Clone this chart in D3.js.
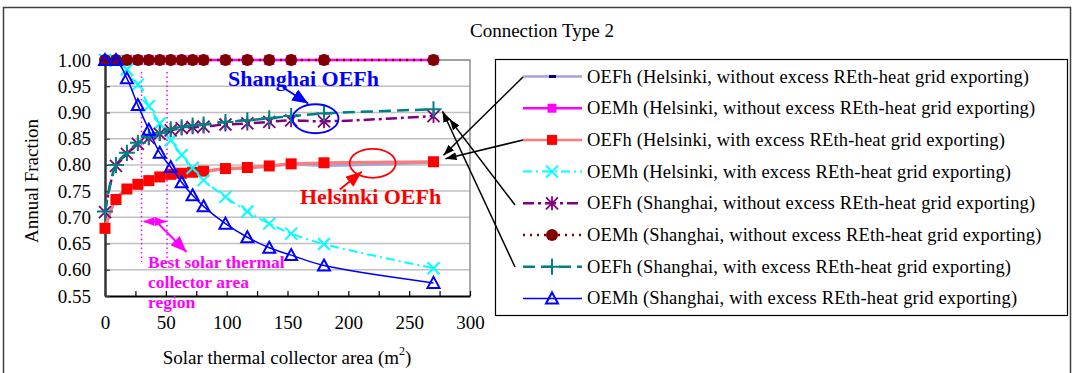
<!DOCTYPE html>
<html>
<head>
<meta charset="utf-8">
<script src="https://cdn.jsdelivr.net/npm/d3@7"></script>
<style>
  html, body { margin: 0; padding: 0; background: #fff; }
  svg { display: block; font-family: "Liberation Serif", "Times New Roman", serif; }
</style>
</head>
<body>
<svg id="chart" width="1074" height="373"></svg>
<script>
// Collector areas (m²) at which each configuration was simulated
const areas = [0, 9, 18, 27, 36, 45, 54, 63, 72, 81, 99, 117, 135, 153, 180, 270];

// Annual fractions per series
const helOEFhNo   = [0.678, 0.734, 0.753, 0.763, 0.770, 0.776, 0.781, 0.784, 0.785, 0.787, 0.792, 0.794, 0.797, 0.801, 0.799, 0.805];
const helOEMhNo   = [1.000, 1.000, 1.000, 1.000, 1.000, 1.000, 1.000, 1.000, 1.000, 1.000, 1.000, 1.000, 1.000, 1.000, 1.000, 1.000];
const helOEFhWith = [0.679, 0.734, 0.754, 0.763, 0.770, 0.777, 0.782, 0.784, 0.786, 0.788, 0.793, 0.795, 0.798, 0.802, 0.804, 0.806];
const helOEMhWith = [1.000, 0.998, 0.982, 0.953, 0.912, 0.879, 0.847, 0.819, 0.794, 0.771, 0.739, 0.711, 0.688, 0.669, 0.649, 0.603];
const shaOEFhNo   = [0.710, 0.798, 0.821, 0.840, 0.851, 0.859, 0.866, 0.870, 0.872, 0.873, 0.877, 0.879, 0.882, 0.885, 0.883, 0.893];
const shaOEMhNo   = [1.000, 1.000, 1.000, 1.000, 1.000, 1.000, 1.000, 1.000, 1.000, 1.000, 1.000, 1.000, 1.000, 1.000, 1.000, 1.000];
const shaOEFhWith = [0.711, 0.800, 0.823, 0.842, 0.853, 0.861, 0.868, 0.872, 0.875, 0.877, 0.882, 0.885, 0.889, 0.893, 0.898, 0.906];
const shaOEMhWith = [1.000, 1.000, 0.965, 0.914, 0.867, 0.823, 0.796, 0.767, 0.742, 0.721, 0.688, 0.662, 0.642, 0.628, 0.608, 0.575];

const seriesNames = [
  "OEFh (Helsinki, without excess REth-heat grid exporting)",
  "OEMh (Helsinki, without excess REth-heat grid exporting)",
  "OEFh (Helsinki, with excess REth-heat grid exporting)",
  "OEMh (Helsinki, with excess REth-heat grid exporting)",
  "OEFh (Shanghai, without excess REth-heat grid exporting)",
  "OEMh (Shanghai, without excess REth-heat grid exporting)",
  "OEFh (Shanghai, with excess REth-heat grid exporting)",
  "OEMh (Shanghai, with excess REth-heat grid exporting)"
];

const xTicks = [0, 50, 100, 150, 200, 250, 300];
const yTicks = [0.55, 0.60, 0.65, 0.70, 0.75, 0.80, 0.85, 0.90, 0.95, 1.00];

const chartTitle = "Connection Type 2";
const yTitle = "Annual Fraction";
const bestRegion = [30, 51];

// Series styling
const styles = [
  { values: helOEFhNo,   line: "#a3a3d6", width: 3,   dash: null,          marker: "dash",     color: "#000080" },
  { values: helOEMhNo,   line: "#ff00ff", width: 2.5, dash: null,          marker: "square",   color: "#ff00ff", size: 10 },
  { values: helOEFhWith, line: "#ff7a7a", width: 3,   dash: null,          marker: "square",   color: "#ff0000", size: 11 },
  { values: helOEMhWith, line: "#00ffff", width: 2,   dash: "9,4,2,4",     marker: "cross",    color: "#00ffff" },
  { values: shaOEFhNo,   line: "#800080", width: 2.5, dash: "11,4,3,4",    marker: "asterisk", color: "#800080" },
  { values: shaOEMhNo,   line: "#800000", width: 2.5, dash: "2,5",         marker: "circle",   color: "#800000" },
  { values: shaOEFhWith, line: "#008080", width: 2.5, dash: "12,6",        marker: "plus",     color: "#008080" },
  { values: shaOEMhWith, line: "#0000ff", width: 1.5, dash: null,          marker: "triangle", color: "#0000ff" }
];

const svg = d3.select("#chart");

// Outer frame
svg.append("rect")
  .attr("x", 3.5).attr("y", 7.5).attr("width", 1067).attr("height", 420)
  .attr("fill", "none").attr("stroke", "#404040").attr("stroke-width", 1.5);

svg.append("text")
  .attr("x", 542).attr("y", 37)
  .attr("text-anchor", "middle").attr("font-size", 19)
  .text(chartTitle);

const plot = { left: 105, right: 470, top: 60, bottom: 296 };
const x = d3.scaleLinear().domain([0, 300]).range([plot.left, plot.right]);
const y = d3.scaleLinear().domain([0.55, 1.00]).range([plot.bottom, plot.top]);

// Gridlines
svg.append("g").selectAll("line").data(yTicks.slice(1)).join("line")
  .attr("x1", plot.left).attr("x2", plot.right)
  .attr("y1", d => y(d)).attr("y2", d => y(d))
  .attr("stroke", "#c0c0c0").attr("stroke-width", 1.5);

// Plot area border (right/top)
svg.append("path")
  .attr("d", `M${plot.left},${plot.top}H${plot.right}V${plot.bottom}`)
  .attr("fill", "none").attr("stroke", "#909090").attr("stroke-width", 1.5);

// Axes
const xAxis = d3.axisBottom(x).tickValues(d3.range(0, 301, 25)).tickSizeInner(-5).tickSizeOuter(0)
  .tickFormat(d => xTicks.includes(d) ? d : "").tickPadding(20);
const gx = svg.append("g").attr("transform", `translate(0,${plot.bottom})`).call(xAxis);
gx.select(".domain").attr("stroke", "#000").attr("stroke-width", 2);
gx.selectAll(".tick line").attr("stroke", "#000").attr("stroke-width", 1.2);
gx.selectAll("text").attr("font-size", 19).attr("font-family", "Liberation Serif").attr("fill", "#000");

const yAxis = d3.axisLeft(y).tickValues(yTicks).tickSizeInner(-5).tickSizeOuter(0)
  .tickFormat(d3.format(".2f")).tickPadding(14);
const gy = svg.append("g").attr("transform", `translate(${plot.left},0)`).call(yAxis);
gy.select(".domain").attr("stroke", "#333").attr("stroke-width", 2.5);
gy.selectAll(".tick line").attr("stroke", "#333").attr("stroke-width", 1.2);
gy.selectAll("text").attr("font-size", 19).attr("font-family", "Liberation Serif").attr("fill", "#000");

// Axis titles
svg.append("text")
  .attr("transform", "translate(38,181) rotate(-90)")
  .attr("text-anchor", "middle").attr("font-size", 19)
  .text(yTitle);

const xt = svg.append("text")
  .attr("x", 287).attr("y", 364)
  .attr("text-anchor", "middle").attr("font-size", 19);
xt.append("tspan").text("Solar thermal collector area (m");
xt.append("tspan").attr("font-size", 12).attr("dy", -9).text("2");
xt.append("tspan").attr("dy", 9).text(")");

// Best collector area region guides
const guide = svg.append("g");
guide.selectAll("line").data(bestRegion).join("line")
  .attr("x1", d => x(d)).attr("x2", d => x(d))
  .attr("y1", y(0.977)).attr("y2", y(0.615))
  .attr("stroke", "#ff00ff").attr("stroke-width", 1.5).attr("stroke-dasharray", "1.5,3");

const defs = svg.append("defs");
function arrowMarker(id, color, w, h) {
  defs.append("marker").attr("id", id)
    .attr("viewBox", `0 0 ${w} ${h}`).attr("refX", w).attr("refY", h / 2)
    .attr("markerWidth", w).attr("markerHeight", h).attr("markerUnits", "userSpaceOnUse")
    .attr("orient", "auto-start-reverse")
    .append("path").attr("d", `M0,0L${w},${h / 2}L0,${h}Z`).attr("fill", color);
}
arrowMarker("ahMag", "#ff00ff", 11, 9);
arrowMarker("ahMagBig", "#ff00ff", 16, 13);
arrowMarker("ahBlue", "#0000ff", 16, 13);
arrowMarker("ahRed", "#ff0000", 16, 13);
arrowMarker("ahBlack", "#000", 11, 8);

// Lines
const lineGen = vals => d3.line()
  .x((d, i) => x(areas[i]))
  .y(d => y(d))
  .curve(d3.curveCatmullRom.alpha(0.5))(vals);

// Markers
function drawMarker(g, type, cx, cy, s) {
  if (type === "dash") {
    g.append("rect").attr("x", cx - 3).attr("y", cy - 1.5).attr("width", 7).attr("height", 3).attr("fill", s.color);
  } else if (type === "square") {
    const z = s.size;
    g.append("rect").attr("x", cx - z / 2).attr("y", cy - z / 2).attr("width", z).attr("height", z).attr("fill", s.color);
  } else if (type === "cross") {
    g.append("path").attr("d", `M${cx - 6},${cy - 6}L${cx + 6},${cy + 6}M${cx - 6},${cy + 6}L${cx + 6},${cy - 6}`)
      .attr("stroke", s.color).attr("stroke-width", 2);
  } else if (type === "asterisk") {
    g.append("path").attr("d", `M${cx - 6},${cy - 6}L${cx + 6},${cy + 6}M${cx - 6},${cy + 6}L${cx + 6},${cy - 6}M${cx},${cy - 7}V${cy + 7}`)
      .attr("stroke", s.color).attr("stroke-width", 1.8);
  } else if (type === "circle") {
    g.append("circle").attr("cx", cx).attr("cy", cy).attr("r", 6).attr("fill", s.color);
  } else if (type === "plus") {
    g.append("path").attr("d", `M${cx - 8},${cy}H${cx + 8}M${cx},${cy - 8}V${cy + 8}`)
      .attr("stroke", s.color).attr("stroke-width", 2);
  } else if (type === "triangle") {
    g.append("path").attr("d", `M${cx},${cy - 6}L${cx + 6},${cy + 5}L${cx - 6},${cy + 5}Z`)
      .attr("fill", "none").attr("stroke", s.color).attr("stroke-width", 2);
  }
}

styles.forEach(s => {
  const g = svg.append("g");
  g.append("path").attr("d", lineGen(s.values))
    .attr("fill", "none").attr("stroke", s.line).attr("stroke-width", s.width)
    .attr("stroke-dasharray", s.dash);
  s.values.forEach((v, i) => drawMarker(g, s.marker, x(areas[i]), y(v), s));
});

// Region arrows and label
guide.append("line")
  .attr("x1", x(bestRegion[0]) + 2).attr("x2", x(bestRegion[1]) - 1)
  .attr("y1", y(0.692)).attr("y2", y(0.692))
  .attr("stroke", "#ff00ff").attr("stroke-width", 2)
  .attr("marker-start", "url(#ahMag)").attr("marker-end", "url(#ahMag)");
svg.append("line")
  .attr("x1", x(42)).attr("y1", y(0.692))
  .attr("x2", x(67)).attr("y2", y(0.634))
  .attr("stroke", "#ff00ff").attr("stroke-width", 2).attr("marker-end", "url(#ahMagBig)");
const bestLabel = svg.append("text").attr("font-size", 17.5).attr("font-weight", "bold").attr("fill", "#ff00ff");
["Best solar thermal", "collector area", "region"].forEach((t, i) => {
  bestLabel.append("tspan").attr("x", 148).attr("y", 268 + i * 20).text(t);
});

// Highlight ellipses and labels
svg.append("ellipse").attr("cx", x(173)).attr("cy", y(0.888)).attr("rx", 23).attr("ry", 14.5)
  .attr("fill", "none").attr("stroke", "#0000ff").attr("stroke-width", 1.8);
svg.append("line").attr("x1", x(146)).attr("y1", y(0.948)).attr("x2", x(167)).attr("y2", y(0.917))
  .attr("stroke", "#0000ff").attr("stroke-width", 2).attr("marker-end", "url(#ahBlue)");
svg.append("text").attr("x", 228).attr("y", 86).attr("font-size", 22).attr("font-weight", "bold")
  .attr("fill", "#0000ff").text("Shanghai OEFh");

svg.append("ellipse").attr("cx", x(220)).attr("cy", y(0.803)).attr("rx", 23).attr("ry", 14.5)
  .attr("fill", "none").attr("stroke", "#ff0000").attr("stroke-width", 1.8);
svg.append("line").attr("x1", x(193)).attr("y1", y(0.753)).attr("x2", x(211)).attr("y2", y(0.787))
  .attr("stroke", "#ff0000").attr("stroke-width", 2).attr("marker-end", "url(#ahRed)");
svg.append("text").attr("x", 300).attr("y", 204).attr("font-size", 22).attr("font-weight", "bold")
  .attr("fill", "#ff0000").text("Helsinki OEFh");

// Legend
const leg = { x: 495.5, y: 59.5, w: 572, h: 256, row0: 76.5, step: 31.7 };
svg.append("rect").attr("x", leg.x).attr("y", leg.y).attr("width", leg.w).attr("height", leg.h)
  .attr("fill", "#fff").attr("stroke", "#000").attr("stroke-width", 1.2);
styles.forEach((s, i) => {
  const cy = leg.row0 + i * leg.step;
  const g = svg.append("g");
  g.append("line").attr("x1", 523).attr("x2", 582).attr("y1", cy).attr("y2", cy)
    .attr("stroke", s.line).attr("stroke-width", Math.min(s.width, 2.5)).attr("stroke-dasharray", s.dash);
  drawMarker(g, s.marker, 552, cy, Object.assign({}, s, { size: s.size ? s.size - 1 : 0 }));
  g.append("text").attr("x", 587).attr("y", cy + 6).attr("font-size", 18.5)
    .attr("letter-spacing", 0.18).text(seriesNames[i]);
});

// Pointers from legend entries to the curve ends
const last = areas.length - 1;
const pointers = [
  { row: 0, from: [523, 77],  to: [x(areas[last]) + 10, y(helOEFhNo[last]) - 7] },
  { row: 2, from: [523, 140], to: [x(areas[last]) + 12, y(helOEFhWith[last]) - 3] },
  { row: 4, from: [515, 205], to: [x(areas[last]) + 16, y(shaOEFhNo[last]) + 3] },
  { row: 6, from: [515, 267], to: [x(areas[last]) + 9,  y(shaOEFhWith[last]) + 2] }
];
svg.append("g").selectAll("line").data(pointers).join("line")
  .attr("x1", d => d.from[0]).attr("y1", d => d.from[1])
  .attr("x2", d => d.to[0]).attr("y2", d => d.to[1])
  .attr("stroke", "#000").attr("stroke-width", 1.5).attr("marker-end", "url(#ahBlack)");
</script>
</body>
</html>
